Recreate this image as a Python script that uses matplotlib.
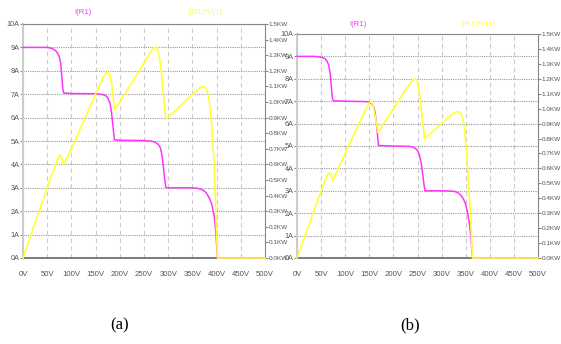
import matplotlib
matplotlib.use("Agg")
import matplotlib.pyplot as plt

# panel (a): current I(R1) [A] vs voltage [V]
va_i = [0, 50, 55, 60, 65, 70, 75, 78, 80, 82, 84, 100, 150, 160, 165, 170, 175, 180, 183, 186, 189,
        200, 250, 262, 268, 274, 280, 284, 288, 292, 295, 300, 350, 360, 366, 372, 378, 384, 390, 395,
        398, 400, 402, 500]
ia = [9.0, 9.0, 8.98, 8.95, 8.9, 8.8, 8.6, 8.3, 7.8, 7.3, 7.05, 7.03, 7.02, 7.0, 6.98, 6.95, 6.85, 6.6,
      6.2, 5.6, 5.05, 5.03, 5.02, 5.0, 4.98, 4.93, 4.85, 4.7, 4.3, 3.5, 3.02, 3.0, 3.0, 2.98, 2.95, 2.9,
      2.8, 2.6, 2.3, 1.8, 1.2, 0.6, 0.0, 0.0]
# panel (a): power I(R1)*V(1) [KW]
va_p = [0, 20, 40, 60, 70, 76, 80, 84, 100, 120, 140, 160, 168, 172, 176, 180, 184, 189, 200, 220, 240,
        260, 268, 272, 276, 280, 285, 290, 295, 310, 330, 350, 365, 372, 376, 380, 385, 390, 395, 400,
        402, 500]
pa = [0, 0.18, 0.36, 0.54, 0.62, 0.66, 0.64, 0.60, 0.70, 0.84, 0.98, 1.12, 1.17, 1.19, 1.19, 1.17, 1.10,
      0.95, 1.00, 1.10, 1.20, 1.30, 1.34, 1.35, 1.35, 1.32, 1.22, 1.05, 0.89, 0.93, 0.99, 1.05, 1.09, 1.10,
      1.10, 1.08, 1.00, 0.85, 0.60, 0.15, 0, 0]

# panel (b)
vb_i = [0, 38, 45, 52, 58, 62, 66, 69, 71, 73, 75, 100, 145, 150, 155, 159, 162, 165, 167, 169, 200, 235,
        240, 245, 250, 254, 258, 261, 264, 266, 300, 325, 330, 335, 340, 345, 350, 354, 358, 361, 364, 500]
ib = [9.0, 9.0, 8.98, 8.95, 8.9, 8.8, 8.6, 8.2, 7.7, 7.2, 7.02, 7.0, 6.98, 6.95, 6.88, 6.75, 6.5, 6.0, 5.5,
      5.02, 5.0, 4.98, 4.95, 4.9, 4.8, 4.6, 4.2, 3.7, 3.2, 3.0, 3.0, 2.98, 2.95, 2.9, 2.8, 2.65, 2.4, 2.0,
      1.5, 0.9, 0.0, 0.0]
vb_p = [0, 20, 40, 55, 62, 67, 71, 74, 90, 110, 130, 145, 150, 154, 158, 162, 165, 168, 190, 210, 230, 240,
        245, 249, 253, 257, 261, 265, 290, 310, 325, 332, 336, 340, 344, 348, 352, 356, 360, 364, 500]
pb = [0, 0.18, 0.36, 0.49, 0.55, 0.57, 0.55, 0.52, 0.63, 0.77, 0.91, 1.01, 1.04, 1.045, 1.02, 0.95, 0.90,
      0.84, 0.95, 1.05, 1.15, 1.19, 1.20, 1.19, 1.12, 1.02, 0.90, 0.80, 0.87, 0.93, 0.97, 0.98, 0.98, 0.97,
      0.93, 0.85, 0.70, 0.50, 0.28, 0, 0]

v_ticks = list(range(0, 501, 50))
v_labels = [f"{v}V" for v in v_ticks]
i_ticks = list(range(0, 11))
i_labels = [f"{i}A" for i in i_ticks]
p_ticks = [k / 10 for k in range(16)]
p_labels = [f"{p:.1f}KW" for p in p_ticks]

MAG = "#ff33ff"
YEL = "#ffff33"
TXT = "#555555"
narrow = ["Liberation Sans Narrow", "Liberation Sans"]
FS = 5.6

fig = plt.figure(figsize=(5.61, 3.44), dpi=100)


def panel(rect, v_i, cur, v_p, pwr, lab_pos):
    ax = fig.add_axes(rect)
    ax.set_xlim(0, 500)
    ax.set_ylim(0, 10)
    ax.set_xticks(v_ticks)
    ax.set_xticklabels(v_labels, fontsize=FS, family=narrow, color=TXT)
    ax.set_yticks(i_ticks)
    ax.set_yticklabels(i_labels, fontsize=5.2, family=narrow, color=TXT)
    ax.tick_params(axis="x", length=0, pad=9)
    ax.tick_params(axis="y", length=2, pad=0.5, color="#888888")
    ax.grid(axis="x", color="#cccccc", ls=(0, (4, 3)), lw=0.8)
    ax.grid(axis="y", color="#999999", ls=(0, (1, 1)), lw=0.8)
    ax.spines["top"].set_color("#888888")
    ax.spines["bottom"].set_color("#666666")
    ax.spines["bottom"].set_linewidth(1.2)
    ax.spines["left"].set_color("#cccccc")
    ax.spines["left"].set_linewidth(1.5)
    ax.spines["right"].set_color("#888888")

    ax2 = ax.twinx()
    ax2.set_ylim(0, 1.5)
    ax2.set_yticks(p_ticks)
    ax2.set_yticklabels(p_labels, fontsize=4.6, family=narrow, color=TXT)
    ax2.tick_params(axis="y", length=2, pad=0.5, color="#888888")
    for s in ax2.spines.values():
        s.set_visible(False)

    ax.plot(v_i, cur, color=MAG, lw=1.1, zorder=3, clip_on=False)
    ax2.plot(v_p, pwr, color=YEL, lw=1.2, zorder=4, clip_on=False)

    (mx, my), (yx, yy) = lab_pos
    fig.text(mx, my, "I(R1)", color=MAG, fontsize=FS, family=narrow, ha="center", va="center")
    fig.text(yx, yy, "I(R1)*V(1)", color=YEL, fontsize=FS, family=narrow, ha="center", va="center")
    return ax


W, H = 561, 344
panel([23 / W, (H - 258) / H, 242 / W, 234 / H], va_i, ia, va_p, pa,
      ((83 / W, 1 - 13 / H), (205 / W, 1 - 13 / H)))
panel([297 / W, (H - 258) / H, 241 / W, 224 / H], vb_i, ib, vb_p, pb,
      ((358 / W, 1 - 25 / H), (478 / W, 1 - 25 / H)))

fig.text(120 / W, 1 - 325 / H, "(a)", fontsize=12, family="Liberation Serif", ha="center", va="center")
fig.text(410 / W, 1 - 325 / H, "(b)", fontsize=12, family="Liberation Serif", ha="center", va="center")

fig.savefig("out.png", dpi=100)
